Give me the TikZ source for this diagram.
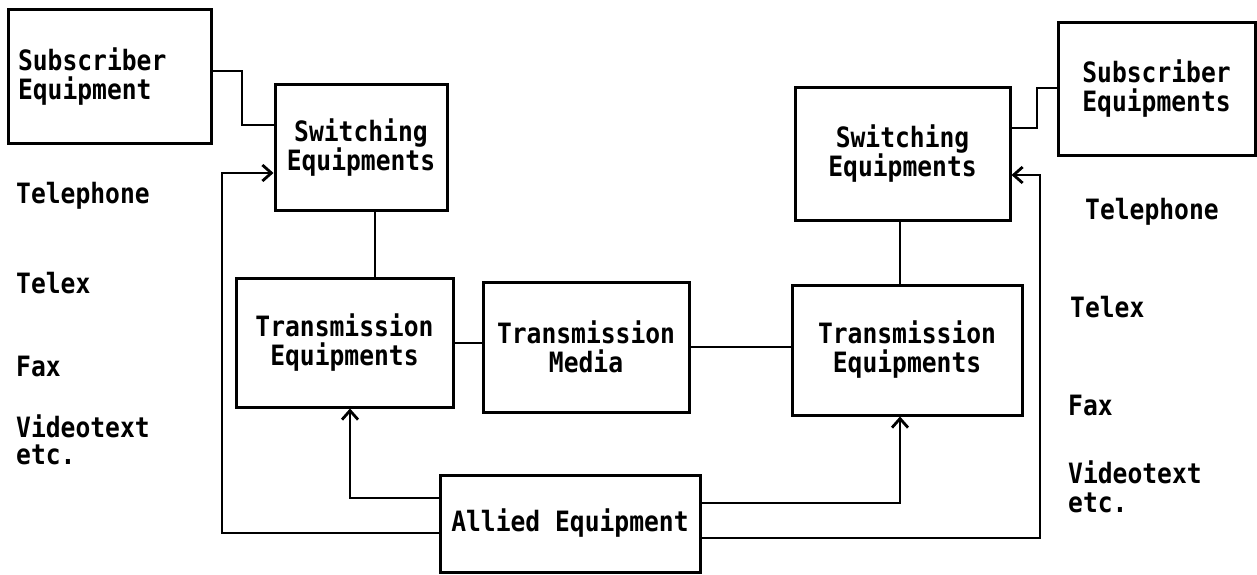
\documentclass[tikz,border=0pt]{standalone}
\usepackage{fontspec}
\newfontfamily\dotfont[FakeStretch=0.88]{DejaVu Sans Mono}
\usetikzlibrary{arrows.meta}
\tikzset{
  every node/.style={font=\dotfont\bfseries\fontsize{28}{29}\selectfont},
  box/.style={draw, line width=3pt, rectangle, align=center, inner sep=0pt},
  conn/.style={line width=2.8pt},
  arr/.style={conn, -{Straight Barb[length=9pt,width=16pt,line width=2.8pt]}},
  lbl/.style={anchor=west, inner sep=0pt}
}
\begin{document}
\begin{tikzpicture}[x=1pt,y=-1pt]
\useasboundingbox (0,0) rectangle (1257,575);
% boxes
\node[box, minimum width=203pt, minimum height=133pt, text width=183pt, align=left] (subL) at (109.5,76.5) {Subscriber\\Equipment};
\node[box, minimum width=172pt, minimum height=125pt] (swL) at (361,147.5) {Switching\\Equipments};
\node[box, minimum width=217pt, minimum height=129pt] (transL) at (344.5,342.5) {Transmission\\Equipments};
\node[box, minimum width=206pt, minimum height=130pt] (media) at (586,347) {Transmission\\Media};
\node[box, minimum width=230pt, minimum height=130pt] (transR) at (907,350) {Transmission\\Equipments};
\node[box, minimum width=215pt, minimum height=132pt] (swR) at (902.5,154) {Switching\\Equipments};
\node[box, minimum width=197pt, minimum height=132pt] (subR) at (1156.5,89) {Subscriber\\Equipments};
\node[box, minimum width=260pt, minimum height=97pt] (allied) at (570,523.5) {Allied Equipment};
% labels left
\node[lbl] (telL) at (16,196) {Telephone};
\node[lbl] (txL) at (16,283) {Telex};
\node[lbl] (faxL) at (16,366) {Fax};
\node[lbl] (vidL) at (16,426) {Videotext};
\node[lbl] (etcL) at (16,455) {etc.};
% labels right
\node[lbl] (telR) at (1085,212) {Telephone};
\node[lbl] (txR) at (1070,307) {Telex};
\node[lbl] (faxR) at (1068,405) {Fax};
\node[lbl] (vidR) at (1068,472) {Videotext};
\node[lbl] (etcR) at (1068,503) {etc.};
% connectors
\draw[conn] (subL.east |- 0,71) -- (242,71) |- (swL.west |- 0,125);
\draw[arr] (allied.west |- 0,533) -| (222,173) -- (swL.west |- 0,173);
\draw[arr] (allied.west |- 0,498) -| (transL.south -| 350,0);
\draw[conn] (swL.south -| 375,0) -- (transL.north -| 375,0);
\draw[conn] (transL.east |- 0,343) -- (media.west |- 0,343);
\draw[conn] (media.east |- 0,347) -- (transR.west |- 0,347);
\draw[conn] (swR.south -| 900,0) -- (transR.north -| 900,0);
\draw[arr] (allied.east |- 0,503) -| (transR.south -| 900,0);
\draw[arr] (allied.east |- 0,538) -| (1040,175) -- (swR.east |- 0,175);
\draw[conn] (swR.east |- 0,128) -- (1037,128) |- (subR.west |- 0,88);
\end{tikzpicture}
\end{document}
